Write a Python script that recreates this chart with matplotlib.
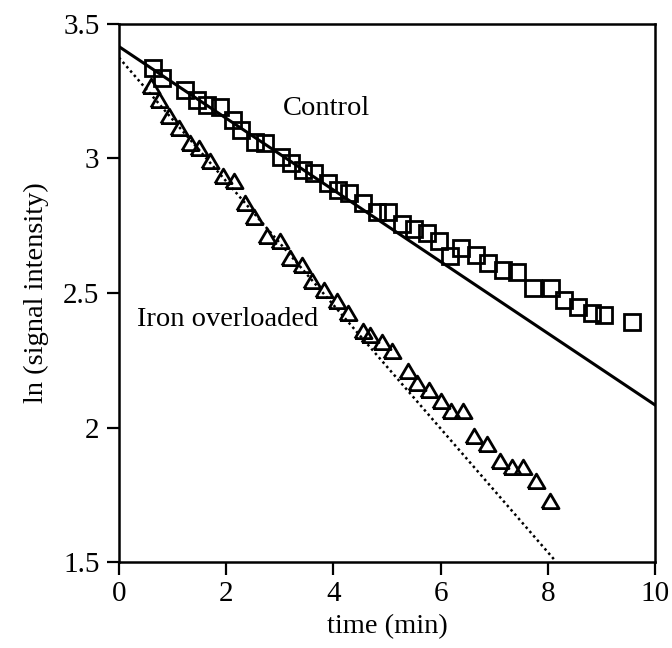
import numpy as np
import matplotlib
matplotlib.use('Agg')
import matplotlib.pyplot as plt

plt.rcParams['font.family'] = ['Liberation Serif', 'DejaVu Serif']

# Control (squares)
control_t = [0.64, 0.80, 1.23, 1.46, 1.64, 1.88, 2.12, 2.28, 2.54, 2.72,
             3.02, 3.21, 3.44, 3.63, 3.90, 4.09, 4.30, 4.56, 4.81, 5.02,
             5.29, 5.51, 5.74, 5.97, 6.18, 6.39, 6.67, 6.89, 7.16, 7.42,
             7.73, 8.07, 8.30, 8.57, 8.82, 9.05, 9.58]
control_ln = [3.335, 3.298, 3.255, 3.217, 3.199, 3.193, 3.143, 3.106, 3.062, 3.057,
              3.007, 2.982, 2.957, 2.945, 2.908, 2.883, 2.871, 2.833, 2.802, 2.802,
              2.757, 2.737, 2.722, 2.694, 2.638, 2.668, 2.641, 2.613, 2.585, 2.579,
              2.517, 2.517, 2.474, 2.449, 2.424, 2.418, 2.393]

# Iron overloaded (triangles)
iron_t = [0.59, 0.75, 0.94, 1.12, 1.32, 1.50, 1.70, 1.95, 2.15, 2.35,
          2.52, 2.77, 3.00, 3.20, 3.41, 3.61, 3.83, 4.07, 4.28, 4.56,
          4.68, 4.90, 5.09, 5.40, 5.57, 5.79, 6.01, 6.19, 6.42, 6.63,
          6.86, 7.11, 7.33, 7.53, 7.79, 8.05]
iron_ln = [3.261, 3.211, 3.149, 3.106, 3.050, 3.032, 2.982, 2.926, 2.908, 2.827,
           2.774, 2.703, 2.685, 2.623, 2.598, 2.536, 2.505, 2.462, 2.418, 2.350,
           2.338, 2.310, 2.276, 2.204, 2.158, 2.133, 2.090, 2.055, 2.055, 1.960,
           1.931, 1.869, 1.845, 1.845, 1.793, 1.718]

# fitted lines (endpoints)
control_fit_t = [0, 10]
control_fit_ln = [3.416, 2.084]
iron_fit_t = [0, 8.13]
iron_fit_ln = [3.375, 1.507]

fig = plt.figure(figsize=(6.72, 6.48), dpi=100)
ax = fig.add_axes([0.177, 0.1327, 0.7976, 0.8303])

ax.plot(control_fit_t, control_fit_ln, color='black', lw=2.2, zorder=2)
ax.plot(iron_fit_t, iron_fit_ln, color='black', lw=1.8, ls=(0, (1, 1.3)), zorder=2)

tri = [(-1, -0.6), (1, -0.6), (0, 1.1), (-1, -0.6)]
ax.plot(control_t, control_ln, ls='none', marker='s', ms=11.5, mfc='none',
        mec='black', mew=2.0, zorder=3)
ax.plot(iron_t, iron_ln, ls='none', marker=tri, ms=13.5, mfc='none',
        mec='black', mew=2.0, zorder=3)

ax.text(3.06, 3.162, 'Control', fontsize=20.5, ha='left', va='baseline')
ax.text(0.336, 2.377, 'Iron overloaded', fontsize=20.5, ha='left', va='baseline')

ax.set_xlim(0, 10)
ax.set_ylim(1.5, 3.5)
ax.set_xticks([0, 2, 4, 6, 8, 10])
ax.set_yticks([1.5, 2, 2.5, 3, 3.5])
ax.set_yticklabels(['1.5', '2', '2.5', '3', '3.5'])
ax.tick_params(direction='out', length=9, width=1.6, labelsize=21, pad=5)
for s in ax.spines.values():
    s.set_linewidth(1.8)

ax.set_xlabel('time (min)', fontsize=20.5, labelpad=5)
ax.set_ylabel('ln (signal intensity)', fontsize=20.5, labelpad=10)

fig.savefig('out.png', dpi=100)
